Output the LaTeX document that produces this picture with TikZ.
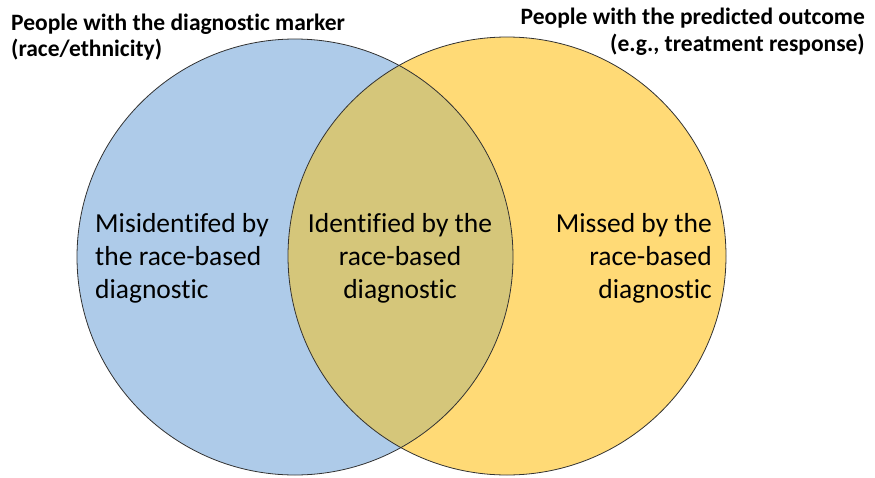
\documentclass[tikz,border=0pt]{standalone}
\usepackage{fontspec}
\setmainfont{Carlito}[Ligatures=NoCommon]
\definecolor{vblue}{RGB}{174,203,233}
\definecolor{vyellow}{RGB}{255,218,118}
\definecolor{volive}{RGB}{213,198,122}
\definecolor{vline}{RGB}{50,50,50}
\begin{document}
\begin{tikzpicture}[x=1pt,y=-1pt,
  heading/.style={font=\fontsize{23.5}{26.5}\selectfont\bfseries, inner sep=0pt},
  body/.style={font=\fontsize{27.5}{33}\selectfont, inner sep=0pt},
  outline/.style={draw=vline, line width=0.8pt}]
\useasboundingbox (0,0) rectangle (875,477);
\coordinate (cl) at (295,257);
\coordinate (cr) at (507,256);
\fill[vblue] (cl) circle[radius=218];
\fill[vyellow] (cr) circle[radius=219];
\begin{scope}
  \clip (cl) circle[radius=218];
  \fill[volive] (cr) circle[radius=219];
\end{scope}
\draw[outline] (cl) circle[radius=218];
\draw[outline] (cr) circle[radius=219];
\node[heading, anchor=base west, align=left] (hl) at (11,56.5) {People with the diagnostic marker\\(race/ethnicity)};
\node[heading, anchor=base east, align=right] (hr) at (865,51) {People with the predicted outcome\\(e.g., treatment response)};
\node[body, anchor=base west, align=left] (tl) at (95,298) {Misidentifed by\\the race-based\\diagnostic};
\node[body, anchor=base, align=center] (tm) at (400,298) {Identified by the\\race-based\\diagnostic};
\node[body, anchor=base east, align=right] (tr) at (712,298) {Missed by the\\race-based\\diagnostic};
\end{tikzpicture}
\end{document}
